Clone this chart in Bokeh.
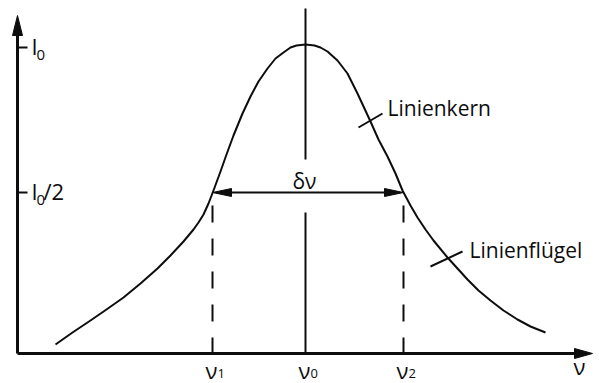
from bokeh.plotting import figure
from bokeh.models import Range1d
from bokeh.core.properties import value
from bokeh.embed import file_html
from bokeh.resources import INLINE

# ---------------- data (drawing units: x = frequency, y = intensity above baseline) ----
curve_nu = [55, 72, 90, 106, 123, 140, 157, 170, 183, 193, 198, 203, 208, 213, 220, 226, 233,
            242, 250, 258, 267, 275, 283, 290, 296, 305, 314, 320, 327, 337, 347, 357, 370,
            378, 387, 395, 402, 410, 417, 425, 433, 447, 457, 467, 478, 490, 503, 517, 530, 545]
curve_I = [9, 21, 33, 44, 56, 70, 85, 98, 112, 124, 131, 139, 150, 163, 182, 199, 218,
           240, 257, 272, 285, 295, 301, 306, 308, 309, 308, 306, 302, 293, 280, 260, 232,
           214, 197, 180, 163, 148, 136, 124, 113, 96, 85, 74, 63, 53, 43, 34, 27, 21]

nu_ticks = [212, 305, 403]          # nu1, nu0, nu2
nu_subs = ["1", "0", "2"]
I_levels = [306, 161]               # I0, I0/2
I_subs = ["0", "0"]
I_suffix = ["", "/2"]
nu_axis = [17, 592]                 # frequency axis extent
I_axis = [0, 338]                   # intensity axis extent
nu0_top = 345
delta_label = "δν"
core_label = "Linienkern"
wing_label = "Linienflügel"
axis_label = "ν"

FONT = value("Open Sans")
INK = "#0d0d0d"
DY = 8  # baseline correction for svg text

p = figure(width=599, height=383, output_backend="svg", toolbar_location=None,
           x_range=Range1d(0, 599), y_range=Range1d(-30, 353), min_border=0)
p.axis.visible = False
p.grid.visible = False
p.outline_line_color = None
p.background_fill_color = "white"


def head(tx, ty, dx, dy, length, half):
    bx, by = tx - dx * length, ty - dy * length
    px, py = -dy, dx
    return [tx, bx + px * half, bx - px * half], [ty, by + py * half, by - py * half]


def label(x, y, s, size, align="left"):
    p.text([x], [y + DY], text=[s], text_font=FONT, text_font_size=size,
           text_color=INK, text_baseline="alphabetic", text_align=align)

# axes
x0 = nu_axis[0]
p.line([x0, nu_axis[1] - 10], [0, 0], line_color=INK, line_width=3)
p.line([x0, x0], [I_axis[0], I_axis[1] - 10], line_color=INK, line_width=3)
hx, hy = head(nu_axis[1], 0, 1, 0, 18, 5)
p.patch(hx, hy, fill_color=INK, line_color=INK, line_width=1)
hx, hy = head(x0, I_axis[1], 0, 1, 20, 5)
p.patch(hx, hy, fill_color=INK, line_color=INK, line_width=1)

# y ticks + labels
for lvl, sub, suf in zip(I_levels, I_subs, I_suffix):
    p.line([x0, x0 + 10], [lvl, lvl], line_color=INK, line_width=2)
    label(31, lvl - 6, "I", "22px")
    label(36, lvl - 15, sub, "15px")
    if suf:
        label(43, lvl - 6, suf, "22px")

# nu labels
for t, sub in zip(nu_ticks, nu_subs):
    label(t - 1, -24, "ν", "22px", "center")
    label(t + 5, -28, sub, "13px")
label(nu_axis[1] - 13, -20, axis_label, "22px", "center")

# dashed verticals at nu1, nu2
half = I_levels[1]
for t in (nu_ticks[0], nu_ticks[2]):
    p.line([t, t], [half, 0], line_color=INK, line_width=2,
           line_dash="17 16", line_dash_offset=20)

# nu0 vertical line (interrupted by the delta-nu label)
nu0 = nu_ticks[1]
p.line([nu0, nu0], [nu0_top, 194], line_color=INK, line_width=2)
p.line([nu0, nu0], [141, 0], line_color=INK, line_width=2)

# delta-nu double arrow
p.line([nu_ticks[0] + 10, nu_ticks[2] - 10], [half, half], line_color=INK, line_width=2)
hx, hy = head(nu_ticks[0], half, -1, 0, 19, 4)
p.patch(hx, hy, fill_color=INK, line_color=INK, line_width=1)
hx, hy = head(nu_ticks[2], half, 1, 0, 19, 4)
p.patch(hx, hy, fill_color=INK, line_color=INK, line_width=1)
label(nu0 - 1, 165, delta_label, "21px", "center")

# line profile
p.line(curve_nu, curve_I, line_color=INK, line_width=2, line_join="round")

# annotations
p.line([358, 382], [226, 240], line_color=INK, line_width=2)
label(387, 238, core_label, "21px")
p.line([430, 462], [87, 102], line_color=INK, line_width=2)
label(469, 96, wing_label, "21px")

html = file_html(p, INLINE)
html = html.replace("<head>", "<head><style>html,body{margin:0;padding:0;overflow:hidden}</style>", 1)
open("out.html", "w").write(html)
